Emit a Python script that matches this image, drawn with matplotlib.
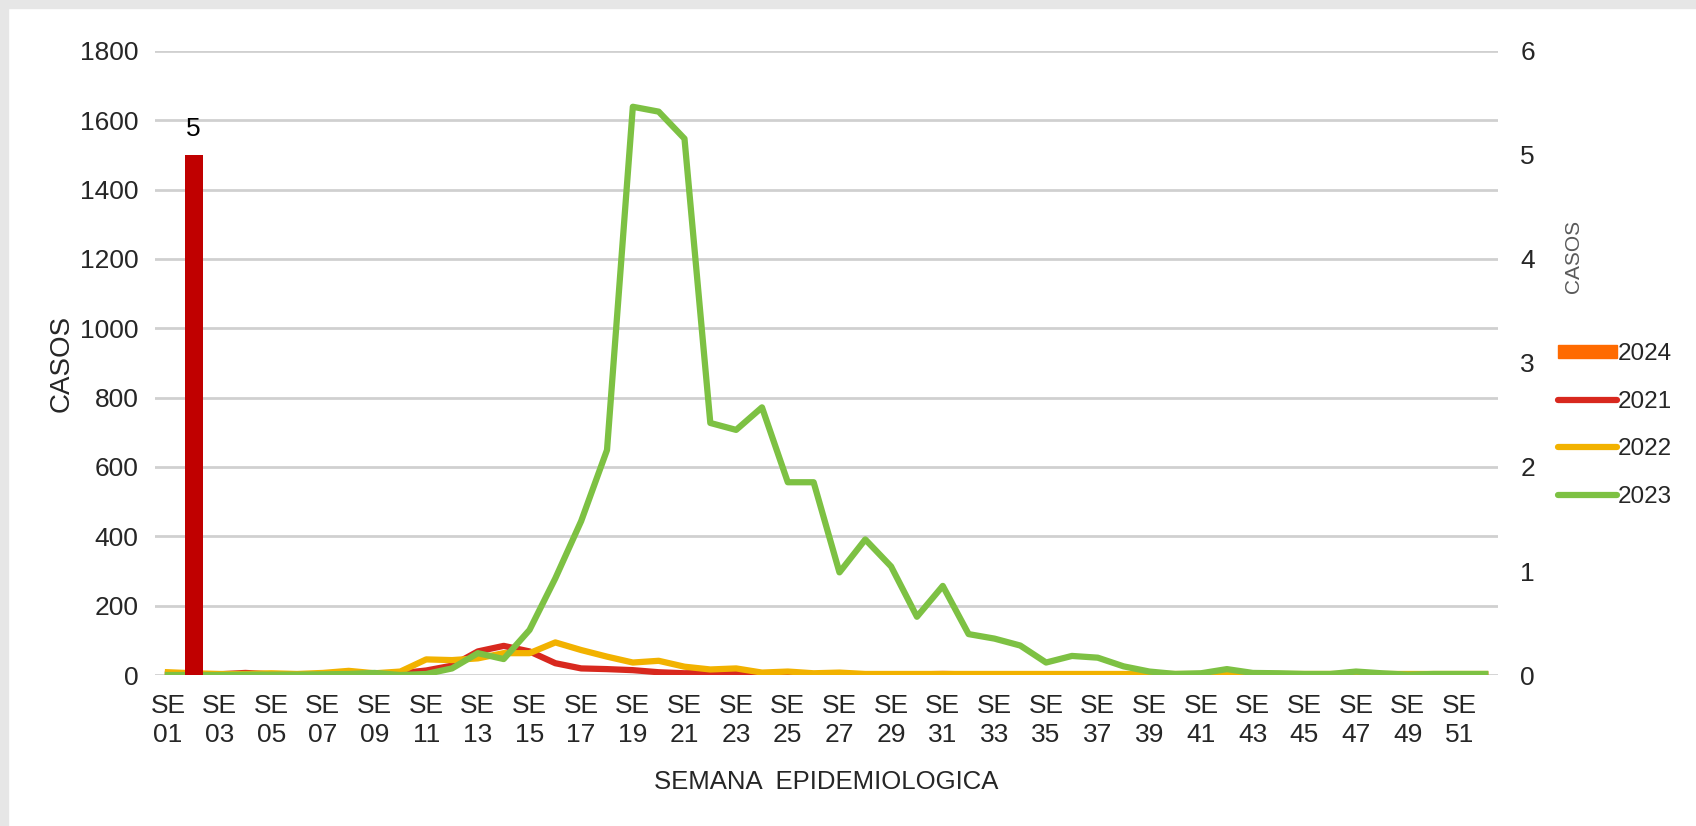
import matplotlib
matplotlib.use('Agg')
import matplotlib.pyplot as plt
from matplotlib import font_manager
from matplotlib.patches import Patch, Rectangle
from matplotlib.lines import Line2D

# semanas epidemiologicas 01..52
weeks = ['SE %02d' % i for i in range(1, 53)]

casos_2021 = [3, 2, 2, 6, 2, 2, 2, 3, 3, 5, 13, 27, 68, 84, 68, 34, 19, 17, 14, 8,
              5, 7, 5, 2, 2, 1, 2, 1, 2, 2, 3, 2, 2, 1, 1, 1, 1, 1, 1, 1,
              1, 2, 1, 1, 1, 1, 1, 2, 1, 1, 1, 1]
casos_2022 = [8, 5, 3, 3, 5, 3, 6, 12, 5, 10, 45, 43, 48, 63, 63, 94, 72, 53, 36, 41,
              24, 16, 19, 7, 10, 5, 7, 3, 3, 3, 3, 3, 3, 3, 3, 3, 3, 3, 3, 3,
              3, 3, 3, 3, 3, 3, 3, 3, 3, 3, 3, 3]
casos_2023 = [0, 0, 0, 1, 1, 1, 2, 3, 6, 0, 3, 19, 63, 46, 130, 279, 444, 649, 1639, 1625,
              1547, 727, 707, 772, 556, 556, 296, 391, 313, 168, 257, 118, 105, 85, 36, 55, 50, 25, 10, 3,
              5, 17, 6, 5, 3, 3, 10, 5, 1, 3, 3, 3]
# 2024 on the secondary axis
casos_2024 = [0, 5] + [0] * 50

left_ticks = [0, 200, 400, 600, 800, 1000, 1200, 1400, 1600, 1800]
right_ticks = [0, 1, 2, 3, 4, 5, 6]

names = {f.name for f in font_manager.fontManager.ttflist}
base_font = 'Liberation Sans' if 'Liberation Sans' in names else 'DejaVu Sans'
narrow_font = 'Liberation Sans Narrow' if 'Liberation Sans Narrow' in names else base_font
plt.rcParams['font.family'] = [base_font, 'DejaVu Sans']

c21, c22, c23 = '#D8281E', '#F2B200', '#7DC143'
cbar, c24 = '#C00000', '#FF6A00'
txt = '#262626'

fig = plt.figure(figsize=(16.96, 8.26), dpi=100)
# screenshot frame (light gray strip top / left)
fig.patches.append(Rectangle((0, 0.99), 1, 0.01, transform=fig.transFigure,
                             color='#E6E6E6', zorder=0))
fig.patches.append(Rectangle((0, 0), 0.005, 1, transform=fig.transFigure,
                             color='#E6E6E6', zorder=0))

ax = fig.add_axes([0.0914, 0.1828, 0.7919, 0.7555])
ax2 = ax.twinx()
x = list(range(len(weeks)))

# grid + lines on the primary axis, bar on top (secondary axis)
ax.plot(x, casos_2021, color=c21, lw=4.5, solid_joinstyle='round', zorder=3)
ax.plot(x, casos_2022, color=c22, lw=4.5, solid_joinstyle='round', zorder=4)
ax.plot(x, casos_2023, color=c23, lw=4.5, solid_joinstyle='round', zorder=5)

ax2.bar(x, casos_2024, width=0.68, color=cbar, lw=0, zorder=2)
for xi, v in zip(x, casos_2024):
    if v:
        ax2.text(xi, v + 0.13, str(v), ha='center', va='bottom', fontsize=19, color='black')

ax.set_ylim(0, 1800)
ax.set_yticks(left_ticks)
ax2.set_ylim(0, 6)
ax2.set_yticks(right_ticks)
ax.set_xlim(-0.5, len(weeks) - 0.5)
ax.set_xticks(x[::2])
ax.set_xticklabels([w.replace(' ', '\n') for w in weeks[::2]], linespacing=1.26)

ax.grid(axis='y', color='#D0D0D0', lw=2)
ax.set_axisbelow(True)

for a in (ax, ax2):
    for s in a.spines.values():
        s.set_visible(False)
    a.tick_params(length=0, labelsize=19, colors=txt)
ax.tick_params(axis='y', pad=12)
ax2.tick_params(axis='y', pad=16)
ax.tick_params(axis='x', pad=14)

ax.set_ylabel('CASOS', fontsize=20, color=txt, labelpad=4)
ax.set_xlabel('SEMANA  EPIDEMIOLOGICA', fontsize=18.5, color=txt, labelpad=16)
fig.text(0.928, 0.69, 'CASOS', rotation=90, ha='center', va='center',
         fontsize=15, color='#595959', family=narrow_font)

handles = [Patch(facecolor=c24, edgecolor=c24),
           Line2D([], [], color=c21, lw=4.5, solid_capstyle='round'),
           Line2D([], [], color=c22, lw=4.5, solid_capstyle='round'),
           Line2D([], [], color=c23, lw=4.5, solid_capstyle='round')]
fig.legend(handles, ['2024', '2021', '2022', '2023'], loc='center left',
           bbox_to_anchor=(0.906, 0.485), frameon=False, fontsize=17.5,
           handlelength=2.4, handleheight=0.5, handletextpad=0.05,
           labelspacing=1.05, labelcolor=txt)

fig.savefig('out.png', dpi=100, facecolor='white')
